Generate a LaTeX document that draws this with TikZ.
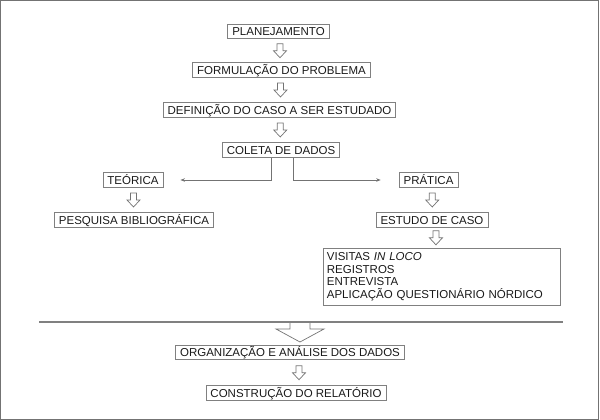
\documentclass[tikz,border=0pt]{standalone}
\usepackage{fontspec}
\setmainfont{Liberation Sans}
\usetikzlibrary{calc,arrows.meta}
\tikzset{
  box/.style={draw=black!50, line width=0.8pt, text=black!90,
    font=\fontsize{11.5}{12.5}\selectfont, inner xsep=4.5pt, inner ysep=3pt,
    text height=8.5pt, text depth=0pt},
  listbox/.style={box, align=left, text width=230pt, inner xsep=3.5pt, inner ysep=4.5pt,
    text height={}, text depth={}},
  link/.style={draw=black!55, line width=0.8pt, -{Stealth[length=4.5pt,width=3.5pt]}},
  hollowarrow/.pic={
    \draw[black!55, line width=0.7pt] (-3,-7) -- (-3,0) -- (-6.5,0) -- (0,7) -- (6.5,0) -- (3,0) -- (3,-7) -- cycle;
  }
}

\begin{document}
\begin{tikzpicture}[x=1pt,y=-1pt]
  %%%%% FRAME %%%%%
  \useasboundingbox (0,0) rectangle (600,420);
  \draw[black!55, line width=1pt] (0.5,0.5) rectangle (598.5,419);

  %%%%% BOXES %%%%%
  \node[box] (plan) at (278.5,31.5) {PLANEJAMENTO};
  \node[box] (form) at (281.5,70) {FORMULAÇÃO DO PROBLEMA};
  \node[box] (defi) at (279.5,110) {DEFINIÇÃO DO CASO A SER ESTUDADO};
  \node[box] (colet) at (281,150) {COLETA DE DADOS};

  \node[box] (teor) at (133,180) {TEÓRICA};
  \node[box] (pesq) at (134,220) {PESQUISA BIBLIOGRÁFICA};

  \node[box] (prat) at (428.5,180) {PRÁTICA};
  \node[box] (estu) at (432,220) {ESTUDO DE CASO};
  \node[listbox, anchor=north west] (lista) at (323,248)
    {VISITAS \textit{IN LOCO}\\REGISTROS\\ENTREVISTA\\APLICAÇÃO QUESTIONÁRIO NÓRDICO};

  \node[box] (organ) at (290,352.5) {ORGANIZAÇÃO E ANÁLISE DOS DADOS};
  \node[box] (constr) at (296,393) {CONSTRUÇÃO DO RELATÓRIO};

  %%%%% ARROWS %%%%%
  \pic at ($(plan.south)!0.5!(form.north)$) {hollowarrow};
  \pic at ($(form.south)!0.5!(defi.north)$) {hollowarrow};
  \pic at ($(defi.south)!0.5!(colet.north)$) {hollowarrow};
  \pic at ($(teor.south)!0.5!(pesq.north)$) {hollowarrow};
  \pic at ([xshift=2pt]$(prat.south)!0.5!(estu.north)$) {hollowarrow};
  \pic at ([xshift=-1pt]$(estu.south)!0.5!(lista.north)$) {hollowarrow};
  \pic at ([xshift=6pt]$(organ.south)!0.5!(constr.north)$) {hollowarrow};

  \draw[link, shorten >=17pt] ([xshift=-10pt]colet.south) |- (teor.east);
  \draw[link, shorten >=18pt] ([xshift=12pt]colet.south) |- (prat.west);

  %%%%% SEPARATOR %%%%%
  \coordinate (sepL) at (39,322);
  \coordinate (sepR) at (563,322);
  \draw[black!50, line width=2.2pt] (sepL) -- (sepR);
  \draw[black!55, line width=0.7pt] (290,323) -- (290,329) -- (276,329)
    -- (300,342) -- (324,329) -- (310,329) -- (310,323);
\end{tikzpicture}
\end{document}
